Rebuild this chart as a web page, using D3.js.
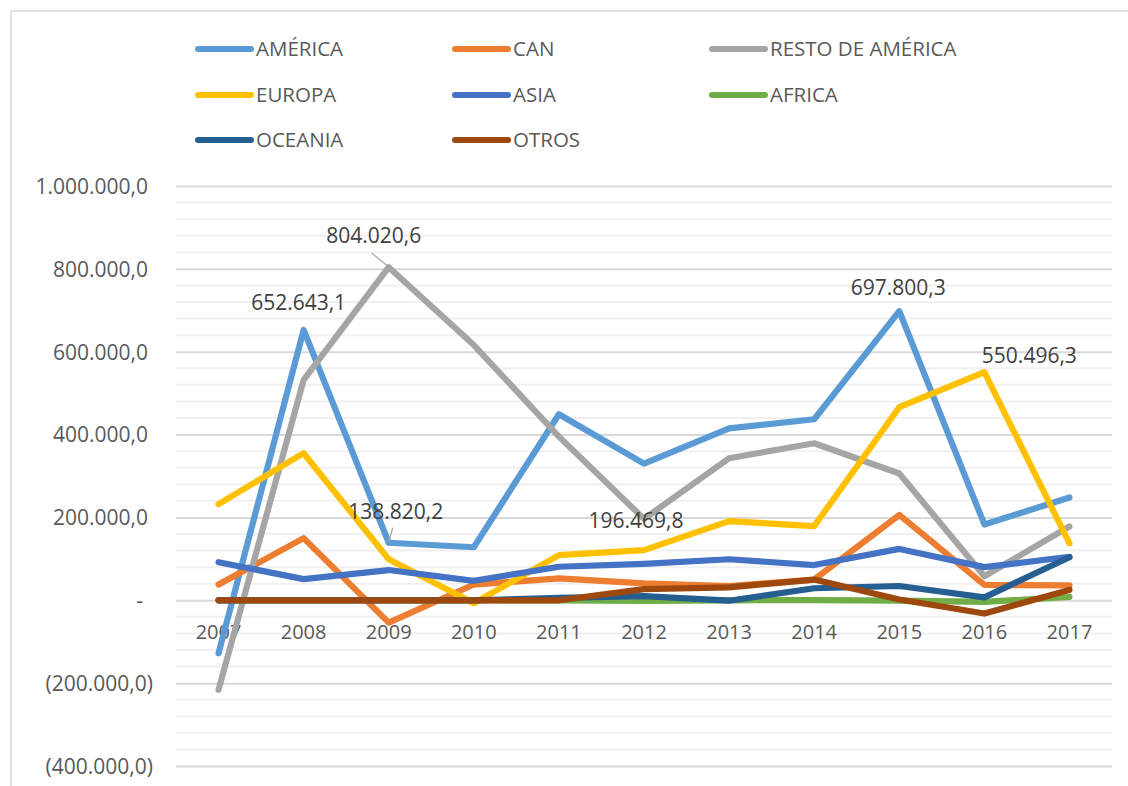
<!DOCTYPE html>
<html>
<head>
<meta charset="utf-8">
<script src="https://cdn.jsdelivr.net/npm/d3@7/dist/d3.min.js"></script>
<style>
  html, body { margin: 0; padding: 0; background: #fff; }
  svg { display: block; font-family: "Open Sans", "Noto Sans", sans-serif; }
</style>
</head>
<body>
<svg id="chart" width="1128" height="786"></svg>
<script>
// ---------- DATA ----------
const years = ["2007","2008","2009","2010","2011","2012","2013","2014","2015","2016","2017"];
const seriesNames = ["AMÉRICA","CAN","RESTO DE AMÉRICA","EUROPA","ASIA","AFRICA","OCEANIA","OTROS"];
const america   = [-128000, 652643.1, 138820.2, 128000, 449000, 330000, 415000, 437000, 697800.3, 183000, 248000];
const can       = [38000, 150000, -54000, 38000, 53000, 41000, 34000, 50000, 206000, 37000, 36000];
const restoAm   = [-216000, 532000, 804020.6, 616000, 395000, 196469.8, 343000, 379000, 306000, 58000, 178000];
const europa    = [232000, 355000, 99000, -7000, 109000, 121000, 191000, 179000, 466000, 550496.3, 137500];
const asia      = [92000, 51000, 73000, 47000, 81000, 88000, 99000, 85000, 124000, 80000, 105000];
const africa    = [500, 300, 200, 300, -500, -1500, 0, 500, -1000, -4000, 8000];
const oceania   = [0, 0, 0, 0, 6000, 10000, -1000, 29000, 34500, 7000, 104000];
const otros     = [0, 0, 0, 0, 0, 27000, 31000, 50000, 2000, -32000, 25000];
const yTicks    = [-400000, -200000, 0, 200000, 400000, 600000, 800000, 1000000];
// labelled points: [series index, year index]
const labelled  = [[0,1],[2,2],[0,2],[2,5],[0,8],[3,9]];

// ---------- STYLE / LAYOUT ----------
const colors = ["#5B9BD5","#ED7D31","#A5A5A5","#FFC000","#4472C4","#70AD47","#255E91","#9E480E"];
const values = [america, can, restoAm, europa, asia, africa, oceania, otros];
const plot = { left: 176, right: 1112, top: 186, bottom: 766 };
// label offsets relative to point (text centre x, baseline y), and optional leader line
const labelOffsets = [
  { dx: -5,  dy: -20 },
  { dx: -15, dy: -24, leader: [[-17,-14],[-2,-2]] },
  { dx: 7,   dy: -24, leader: [[4,-15],[0,-1]] },
  { dx: -8,  dy: 9 },
  { dx: -1,  dy: -16 },
  { dx: 45,  dy: -9 }
];

const locale = d3.formatLocale({ decimal: ",", thousands: ".", grouping: [3], currency: ["", ""] });
const fmt = locale.format(",.1f");
const tickFmt = v => v === 0 ? "-" : (v < 0 ? "(" + fmt(-v) + ")" : fmt(v));

const svg = d3.select("#chart");

// chart border
svg.append("rect").attr("x", 11).attr("y", 11).attr("width", 1140).attr("height", 800)
  .attr("fill", "#fff").attr("stroke", "#D9D9D9").attr("stroke-width", 1.5);

const x = d3.scaleBand().domain(years).range([plot.left, plot.right]);
const y = d3.scaleLinear().domain([-400000, 1000000]).range([plot.bottom, plot.top]);
const cx = d => x(d) + x.bandwidth() / 2;

// minor gridlines
svg.append("g").selectAll("line")
  .data(d3.range(-400000, 1000001, 40000).filter(v => !yTicks.includes(v)))
  .join("line")
  .attr("x1", plot.left).attr("x2", plot.right)
  .attr("y1", d => y(d)).attr("y2", d => y(d))
  .attr("stroke", "#F0F0F0").attr("stroke-width", 2);

// major gridlines + tick labels via axis
const yAxis = svg.append("g")
  .attr("transform", `translate(${plot.left},0)`)
  .call(d3.axisLeft(y).tickValues(yTicks).tickSize(-(plot.right - plot.left)).tickFormat(tickFmt).tickPadding(0));
yAxis.select(".domain").remove();
yAxis.selectAll(".tick line").attr("stroke", "#D9D9D9").attr("stroke-width", 2);
yAxis.selectAll(".tick text")
  .attr("x", d => d === 0 ? 143 - plot.left : (d < 0 ? 153 - plot.left : 148 - plot.left))
  .attr("dy", "0.35em")
  .attr("fill", "#595959")
  .style("font-size", "21px")
  .style("font-family", "'Open Sans', sans-serif");

// x axis labels
svg.append("g").selectAll("text")
  .data(years).join("text")
  .attr("x", d => cx(d)).attr("y", 639)
  .attr("text-anchor", "middle")
  .attr("fill", "#595959")
  .style("font-size", "20px")
  .text(d => d);

// lines
const line = d3.line().x((d, i) => cx(years[i])).y(d => y(d));
svg.append("g").selectAll("path")
  .data(values).join("path")
  .attr("d", d => line(d))
  .attr("fill", "none")
  .attr("stroke", (d, i) => colors[i])
  .attr("stroke-width", 6.2)
  .attr("stroke-linejoin", "round")
  .attr("stroke-linecap", "round");

// data labels
const lg = svg.append("g");
labelled.forEach(([s, yi], k) => {
  const px = cx(years[yi]), py = y(values[s][yi]);
  const o = labelOffsets[k];
  if (o.leader) {
    lg.append("line")
      .attr("x1", px + o.leader[0][0]).attr("y1", py + o.leader[0][1])
      .attr("x2", px + o.leader[1][0]).attr("y2", py + o.leader[1][1])
      .attr("stroke", "#A6A6A6").attr("stroke-width", 1.2);
  }
  lg.append("text")
    .attr("x", px + o.dx).attr("y", py + o.dy)
    .attr("text-anchor", "middle")
    .attr("fill", "#404040")
    .style("font-size", "21px")
    .text(fmt(values[s][yi]));
});

// legend
const legCols = [196, 453, 710];
const legRows = [49, 95, 140];
const leg = svg.append("g").selectAll("g")
  .data(seriesNames).join("g")
  .attr("transform", (d, i) => `translate(${legCols[i % 3]},${legRows[Math.floor(i / 3)]})`);
leg.append("line")
  .attr("x1", 2).attr("x2", 55).attr("y1", 0).attr("y2", 0)
  .attr("stroke", (d, i) => colors[i]).attr("stroke-width", 6).attr("stroke-linecap", "round");
leg.append("text")
  .attr("x", 60).attr("y", 0).attr("dy", "0.36em")
  .attr("fill", "#595959")
  .style("font-size", "20.5px")
  .text(d => d);
</script>
</body>
</html>
